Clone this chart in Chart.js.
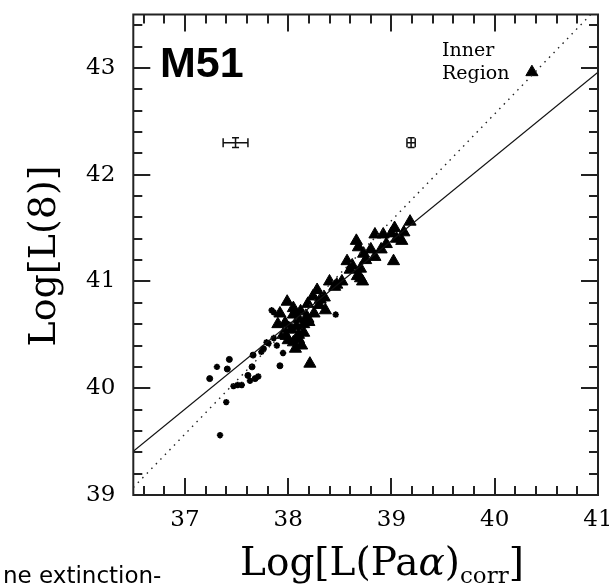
<!DOCTYPE html>
<html>
<head>
<meta charset="utf-8">
<script src="https://cdn.jsdelivr.net/npm/chart.js@4"></script>
<style>
body{margin:0;background:#fff;}
canvas{display:block;}
</style>
</head>
<body>
<canvas id="chartM51" width="609" height="585"></canvas>
<script>
// tick values
var xMajor = [37, 38, 39, 40, 41];
var yMajor = [39, 40, 41, 42, 43];

// big triangles (HII regions)
var triX = [37.99, 37.92, 38.05, 38.18, 37.97, 38.08, 38.15, 37.98, 38.05, 38.13, 38.19, 38.31, 38.36, 38.28,
  38.40, 38.47, 38.57, 38.60, 38.70, 38.70, 38.73, 38.84, 38.66, 38.90, 38.84, 38.92, 39.03, 39.05, 39.10,
  39.18, 39.02, 39.12, 38.21, 40.36, 38.03, 38.24, 38.10,
  37.90, 38.00, 38.10, 38.05, 38.15, 38.00, 38.10, 38.20, 37.95, 38.25, 38.30, 38.35, 38.45, 38.52,
  38.62, 38.67, 38.75, 38.80, 38.95, 39.00, 38.68, 38.72, 38.07, 38.12];
var triY = [40.81, 40.70, 40.69, 40.67, 40.61, 40.58, 40.52, 40.49, 40.43, 40.40, 40.79, 40.83, 40.73, 40.92,
  41.00, 40.97, 41.19, 41.11, 41.12, 41.03, 41.26, 41.23, 41.38, 41.30, 41.44, 41.44, 41.50, 41.40, 41.38,
  41.56, 41.19, 41.46, 40.23, 42.96, 40.55, 40.86, 40.46,
  40.60, 40.55, 40.65, 40.75, 40.60, 40.45, 40.50, 40.62, 40.50, 40.70, 40.78, 40.85, 40.95, 41.00,
  41.15, 41.05, 41.20, 41.30, 41.35, 41.45, 41.32, 41.00, 40.37, 40.72];

// small filled dots
var dotX = [37.24, 37.41, 37.43, 37.65, 37.61, 37.68, 37.66, 37.92, 37.76];
var dotY = [40.09, 40.18, 40.27, 40.20, 40.12, 40.09, 40.31, 40.21, 40.37];

// small asterisks
var starX = [37.31, 37.47, 37.51, 37.40, 37.34, 37.71, 37.81, 37.86, 37.84, 37.86, 37.79, 37.95, 38.46, 38.00, 38.12, 38.22, 37.74, 37.89, 37.55, 37.63];
var starY = [40.20, 40.02, 40.03, 39.87, 39.56, 40.11, 40.42, 40.47, 40.73, 40.71, 40.43, 40.33, 40.69, 40.60, 40.72, 40.62, 40.34, 40.40, 40.03, 40.07];

// fits: solid and dotted
var fitX = [36.5, 41];
var fitY = [39.41, 42.96];
var dotFitX = [36.5, 40.93];
var dotFitY = [39.07, 43.5];

// typical error bars
var errX = [37.49, 39.19];
var errY = [42.30, 42.30];
var errDx = [0.12, 0.04];
var errDy = [0.045, 0.045];

function pts(xs, ys){ return xs.map(function(v, i){ return {x: v, y: ys[i]}; }); }

var frameTicks = {
  id: 'frameTicks',
  afterDraw: function(chart){
    var ctx = chart.ctx, a = chart.chartArea, sx = chart.scales.x, sy = chart.scales.y;
    ctx.save();
    ctx.strokeStyle = '#222';
    ctx.fillStyle = '#222';
    ctx.lineWidth = 2;
    ctx.strokeRect(a.left, a.top, a.right - a.left, a.bottom - a.top);
    ctx.beginPath();
    for (var v = 36.6; v < 41.01; v += 0.2) {
      var px = Math.round(sx.getPixelForValue(v));
      var len = Math.abs(v - Math.round(v)) < 0.01 ? 17 : 9;
      ctx.moveTo(px, a.bottom); ctx.lineTo(px, a.bottom - len);
      ctx.moveTo(px, a.top); ctx.lineTo(px, a.top + len);
    }
    for (var w = 39.2; w < 43.51; w += 0.2) {
      var py = Math.round(sy.getPixelForValue(w));
      var l2 = Math.abs(w - Math.round(w)) < 0.01 ? 17 : 9;
      ctx.moveTo(a.left, py); ctx.lineTo(a.left + l2, py);
      ctx.moveTo(a.right, py); ctx.lineTo(a.right - l2, py);
    }
    ctx.stroke();

    // error bars
    ctx.lineWidth = 1.5;
    ctx.strokeStyle = '#111';
    ctx.beginPath();
    for (var i = 0; i < errX.length; i++) {
      var x0 = sx.getPixelForValue(errX[i] - errDx[i]), x1 = sx.getPixelForValue(errX[i] + errDx[i]);
      var xc = sx.getPixelForValue(errX[i]), yc = sy.getPixelForValue(errY[i]);
      var y0 = sy.getPixelForValue(errY[i] - errDy[i]), y1 = sy.getPixelForValue(errY[i] + errDy[i]);
      ctx.moveTo(x0, yc); ctx.lineTo(x1, yc);
      ctx.moveTo(x0, yc - 4.5); ctx.lineTo(x0, yc + 4.5);
      ctx.moveTo(x1, yc - 4.5); ctx.lineTo(x1, yc + 4.5);
      ctx.moveTo(xc, y0); ctx.lineTo(xc, y1);
      ctx.moveTo(xc - 3.5, y0); ctx.lineTo(xc + 3.5, y0);
      ctx.moveTo(xc - 3.5, y1); ctx.lineTo(xc + 3.5, y1);
    }
    ctx.stroke();

    ctx.fillStyle = '#000';
    ctx.textBaseline = 'alphabetic';
    ctx.textAlign = 'left';
    ctx.font = 'bold 43px "Liberation Sans"';
    ctx.fillText('M51', 160, 77);
    ctx.font = '19px "DejaVu Serif"';
    ctx.fillText('Inner', 442, 56);
    ctx.fillText('Region', 442, 79);

    // y title
    ctx.save();
    ctx.translate(55, 256);
    ctx.rotate(-Math.PI / 2);
    ctx.textAlign = 'center';
    ctx.font = '38px "DejaVu Serif"';
    ctx.fillText('Log[L(8)]', 0, 0);
    ctx.restore();

    // x title with subscript
    var bx = 240, by = 575;
    ctx.font = '39px "DejaVu Serif"';
    ctx.fillText('Log[L(Pa', bx, by);
    bx += ctx.measureText('Log[L(Pa').width;
    ctx.font = 'italic 39px "DejaVu Serif"';
    ctx.fillText('\u03b1', bx, by);
    bx += ctx.measureText('\u03b1').width;
    ctx.font = '39px "DejaVu Serif"';
    ctx.fillText(')', bx, by);
    bx += ctx.measureText(')').width;
    ctx.font = '23px "DejaVu Serif"';
    ctx.fillText('corr', bx, by + 8);
    bx += ctx.measureText('corr').width;
    ctx.font = '39px "DejaVu Serif"';
    ctx.fillText(']', bx, by);

    ctx.font = '23px "DejaVu Sans"';
    ctx.fillText('ne extinction-', 3, 583);
    ctx.restore();
  }
};

var chartM51 = new Chart(document.getElementById('chartM51'), {
  type: 'scatter',
  data: {
    datasets: [
      {label: 'fit', type: 'line', data: pts(fitX, fitY), borderColor: '#111', borderWidth: 1.2, pointRadius: 0, fill: false},
      {label: 'slope 1', type: 'line', data: pts(dotFitX, dotFitY), borderColor: '#222', borderWidth: 1.4, borderDash: [1.5, 5], pointRadius: 0, fill: false},
      {label: 'triangles', data: pts(triX, triY), pointStyle: 'triangle', radius: 7, backgroundColor: '#000', borderColor: '#000', borderWidth: 1},
      {label: 'dots', data: pts(dotX, dotY), pointStyle: 'circle', radius: 3, backgroundColor: '#000', borderColor: '#000', borderWidth: 1},
      {label: 'stars', data: pts(starX, starY), pointStyle: 'star', radius: 3.2, backgroundColor: '#000', borderColor: '#000', borderWidth: 1.8}
    ]
  },
  options: {
    animation: false,
    responsive: false,
    layout: {padding: {top: 14.5, right: 11, left: 0, bottom: 0}},
    plugins: {legend: {display: false}, tooltip: {enabled: false}},
    scales: {
      x: {
        type: 'linear', min: 36.5, max: 41,
        grid: {display: false, drawTicks: false}, border: {display: false},
        afterBuildTicks: function(s){ s.ticks = xMajor.map(function(v){ return {value: v}; }); },
        afterFit: function(s){ s.height = 90; s.paddingLeft = 0; s.paddingRight = 0; },
        ticks: {color: '#000', padding: 11, font: {family: 'DejaVu Serif', size: 23}, maxRotation: 0, autoSkip: false}
      },
      y: {
        type: 'linear', min: 39, max: 43.5,
        grid: {display: false, drawTicks: false}, border: {display: false},
        afterBuildTicks: function(s){ s.ticks = yMajor.map(function(v){ return {value: v}; }); },
        afterFit: function(s){ s.width = 133.3; s.paddingTop = 0; s.paddingBottom = 0; },
        ticks: {color: '#000', padding: 18, font: {family: 'DejaVu Serif', size: 23}, autoSkip: false}
      }
    }
  },
  plugins: [frameTicks]
});
</script>
</body>
</html>
